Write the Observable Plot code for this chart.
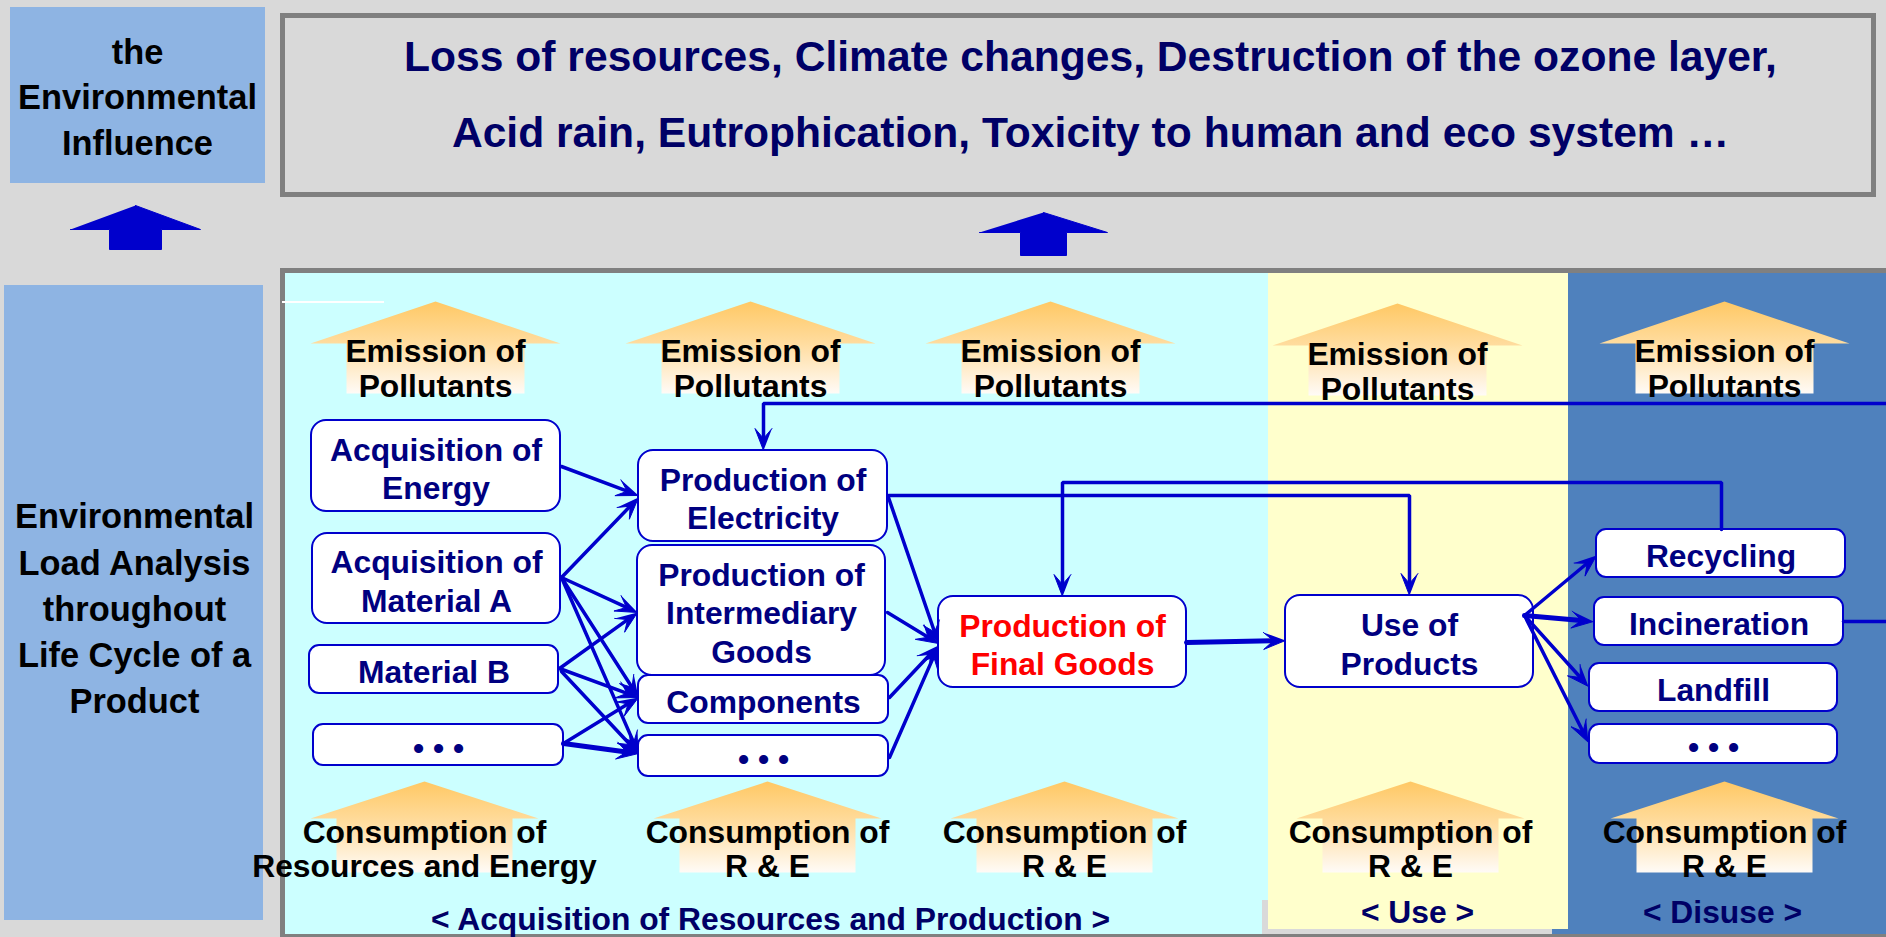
<!DOCTYPE html>
<html><head><meta charset="utf-8">
<script src="https://cdn.jsdelivr.net/npm/d3@7"></script>
<script src="https://cdn.jsdelivr.net/npm/@observablehq/plot@0.6"></script>
<style>html,body{margin:0;padding:0;background:#d9d9d9;overflow:hidden}</style>
</head><body><div id="chart"></div>
<script>
const W = 1886, H = 937;
const FONT = "'Liberation Sans', Arial, Helvetica, sans-serif";
const BLUE = "#0000cc";
const FS = 31.8;

// ---------- texts ----------
const influenceTitle = ["the", "Environmental", "Influence"];
const analysisTitle = ["Environmental", "Load Analysis", "throughout", "Life Cycle of a", "Product"];
const impactLines = [
  "Loss of resources, Climate changes, Destruction of the ozone layer,",
  "Acid rain, Eutrophication, Toxicity to human and eco system \u2026"
];
const stageNames = ["< Acquisition of Resources and Production >", "< Use >", "< Disuse >"];
const emissionLabel = "Emission of\nPollutants";
const consumptionLabels = ["Consumption of\nResources and Energy", "Consumption of\nR & E", "Consumption of\nR & E", "Consumption of\nR & E", "Consumption of\nR & E"];

// ---------- process boxes ----------
const nodeLabels = ["Acquisition of\nEnergy", "Acquisition of\nMaterial A", "Material B", "\u2022 \u2022 \u2022",
  "Production of\nElectricity", "Production of\nIntermediary\nGoods", "Components", "\u2022 \u2022 \u2022",
  "Production of\nFinal Goods", "Use of\nProducts", "Recycling", "Incineration", "Landfill", "\u2022 \u2022 \u2022"];
const nodeHighlight = [0,0,0,0, 0,0,0,0, 1,0, 0,0,0,0];

// ---------- layout (diagram coordinates) ----------
const stageX1 = [285, 1268, 1568], stageX2 = [1268, 1568, 1886];
const stageColors = ["#ccffff", "#ffffcc", "#4f81bd"];
const stageLabelX = [770, 1417, 1722], stageLabelY = [919, 912, 912];

const nodeX1 = [311, 312, 309, 313, 638, 637, 638, 638, 938, 1285, 1596, 1594, 1589, 1589];
const nodeX2 = [560, 560, 558, 563, 887, 885, 888, 888, 1186, 1533, 1845, 1843, 1837, 1837];
const nodeY1 = [420, 533, 645, 724, 450, 545, 675, 735, 596, 595, 529, 597, 663, 724];
const nodeY2 = [511, 623, 693, 765, 541, 675, 723, 776, 687, 687, 577, 645, 711, 763];

const emissionX = [435, 750, 1050, 1397, 1724];
const emissionShift = [0, 0, 0, 2, 0];
const consumptionX = [424, 767, 1064, 1410, 1724];

// connectors: polyline points, arrowhead at end?
const connectors = [
  {pts: [[561,466],[638,495]], head: 1, thick: 0},
  {pts: [[561,577],[638,497]], head: 1, thick: 0},
  {pts: [[561,577],[637,612]], head: 1, thick: 0},
  {pts: [[561,577],[638,697]], head: 1, thick: 0},
  {pts: [[561,577],[638,753]], head: 1, thick: 0},
  {pts: [[559,668],[637,612]], head: 1, thick: 0},
  {pts: [[559,668],[638,697]], head: 1, thick: 0},
  {pts: [[561,671],[638,753]], head: 1, thick: 0},
  {pts: [[563,743],[638,697]], head: 1, thick: 0},
  {pts: [[563,743],[638,753]], head: 1, thick: 1},
  {pts: [[888,497],[938,643]], head: 1, thick: 0},
  {pts: [[887,612],[938,643]], head: 1, thick: 0},
  {pts: [[889,697],[938,645]], head: 1, thick: 0},
  {pts: [[889,757],[938,645]], head: 1, thick: 0},
  {pts: [[1186,642],[1285,640]], head: 1, thick: 1},
  {pts: [[1524,615],[1596,555]], head: 1, thick: 0},
  {pts: [[1524,615],[1593,621]], head: 1, thick: 1},
  {pts: [[1524,615],[1588,686]], head: 1, thick: 0},
  {pts: [[1524,615],[1588,742]], head: 1, thick: 0},
  {pts: [[888,495],[1409,495],[1409,595]], head: 1, thick: 0},
  {pts: [[1721,529],[1721,482],[1062,482],[1062,596]], head: 1, thick: 0},
  {pts: [[1886,403],[763,403],[763,450]], head: 1, thick: 0},
  {pts: [[1843,621],[1886,621]], head: 0, thick: 0}
];

// ---------- derived geometry ----------
const bgRects = [
  {x1:0, x2:W, y1:0, y2:H, c:"#d9d9d9"},
  {x1:10, x2:265, y1:7, y2:183, c:"#8eb4e3"},
  {x1:4, x2:263, y1:285, y2:920, c:"#8eb4e3"},
  {x1:280, x2:W, y1:268, y2:937, c:"#808080"},
  {x1:stageX1[0], x2:stageX2[0], y1:273, y2:934, c:stageColors[0]},
  {x1:1262, x2:1568, y1:900, y2:934, c:"#d9d9d9"},
  {x1:stageX1[1], x2:stageX2[1], y1:273, y2:929, c:stageColors[1]},
  {x1:stageX1[2], x2:stageX2[2], y1:273, y2:934, c:stageColors[2]},
  {x1:1552, x2:1568, y1:929, y2:934, c:stageColors[2]},
  {x1:282, x2:384, y1:301, y2:303, c:"#ffffff"}
];

function arrowPoly(id, cx, tip, base, headHalf, stemHalf, bottom) {
  return [[cx,tip],[cx+headHalf,base],[cx+stemHalf,base],[cx+stemHalf,bottom],
          [cx-stemHalf,bottom],[cx-stemHalf,base],[cx-headHalf,base]].map(([x,y]) => ({id, x, y}));
}
const blueArrows = [
  ...arrowPoly("b0", 135, 205, 229, 65, 26, 249),
  ...arrowPoly("b1", 1043, 212, 232, 64, 23, 255)
];
const orangeArrows = [];
emissionX.forEach((cx, i) => orangeArrows.push(...arrowPoly("e"+i, cx, 301+emissionShift[i], 343+emissionShift[i], 125, 89, 393+emissionShift[i])));
consumptionX.forEach((cx, i) => orangeArrows.push(...arrowPoly("c"+i, cx, 781, 818, 114, 88, 872)));

const nodes = nodeLabels.map((t, i) => ({
  t, x1: nodeX1[i], x2: nodeX2[i], y1: nodeY1[i], y2: nodeY2[i],
  cx: (nodeX1[i] + nodeX2[i]) / 2, cy: (nodeY1[i] + nodeY2[i]) / 2 + 1.5,
  color: nodeHighlight[i] ? "#ff0000" : "#000080", big: nodeY2[i] - nodeY1[i] > 60
}));

const HL = 22, HW = 8.5, NOTCH = 0.55;
const shafts = [], heads = [];
connectors.forEach((c, k) => {
  const pts = c.pts.map(p => p.slice());
  if (c.head) {
    const [x2, y2] = pts[pts.length - 1], [x1, y1] = pts[pts.length - 2];
    const len = Math.hypot(x2 - x1, y2 - y1), ux = (x2 - x1) / len, uy = (y2 - y1) / len, nx = -uy, ny = ux;
    [[x2, y2], [x2 - HL*ux + HW*nx, y2 - HL*uy + HW*ny], [x2 - NOTCH*HL*ux, y2 - NOTCH*HL*uy], [x2 - HL*ux - HW*nx, y2 - HL*uy - HW*ny]]
      .forEach(([x, y]) => heads.push({id: k, x, y}));
    pts[pts.length - 1] = [x2 - NOTCH*HL*ux, y2 - NOTCH*HL*uy];
  }
  pts.forEach(([x, y]) => shafts.push({id: k, x, y, thick: c.thick}));
});

const txt = (o) => ({fontFamily: FONT, fontWeight: "bold", textAnchor: "middle", lineAnchor: "middle", ...o});

const svg = Plot.plot({
  width: W, height: H, margin: 0,
  x: {domain: [0, W], range: [0, W], axis: null},
  y: {domain: [0, H], range: [0, H], axis: null},
  color: {type: "identity"},
  style: {background: "#d9d9d9", maxWidth: "none"},
  marks: [
    Plot.rect(bgRects, {x1: "x1", x2: "x2", y1: "y1", y2: "y2", fill: "c"}),
    Plot.rect([{x1: 282.5, x2: 1873.5, y1: 15.5, y2: 194.5}], {x1: "x1", x2: "x2", y1: "y1", y2: "y2", fill: "none", stroke: "#808080", strokeWidth: 5}),
    Plot.line(blueArrows, {x: "x", y: "y", z: "id", fill: BLUE, stroke: BLUE, strokeWidth: 1}),
    Plot.line(orangeArrows, {x: "x", y: "y", z: "id", fill: "url(#orangeGrad)", stroke: "none"}),
    // titles
    Plot.text(influenceTitle.map((t, i) => ({t, y: [52, 97, 143][i]})), txt({x: () => 137, y: "y", text: "t", fontSize: 34.4, fill: "#000000"})),
    Plot.text([{t: analysisTitle.join("\n")}], txt({x: () => 134, y: () => 605.5, text: "t", fontSize: 34.4, lineHeight: 1.345, fill: "#000000"})),
    Plot.text(impactLines.map((t, i) => ({t, y: [57, 133][i]})), txt({x: () => 1090, y: "y", text: "t", fontSize: 42.6, fill: "#000066"})),
    Plot.text(emissionX.map((x, i) => ({x, y: 367.5 + emissionShift[i]*1.5})), txt({x: "x", y: "y", text: () => emissionLabel, fontSize: FS, lineHeight: 1.1, fill: "#000000"})),
    Plot.text(consumptionX.map((x, i) => ({x, t: consumptionLabels[i]})), txt({x: "x", y: () => 849, text: "t", fontSize: FS, lineHeight: 1.07, fill: "#000000"})),
    Plot.text(stageNames.map((t, i) => ({t, x: stageLabelX[i], y: stageLabelY[i]})), txt({x: "x", y: "y", text: "t", fontSize: FS, fill: "#000066"})),
    // boxes
    Plot.rect(nodes.filter(d => d.big), {x1: "x1", x2: "x2", y1: "y1", y2: "y2", fill: "#ffffff", stroke: BLUE, strokeWidth: 2, rx: 15, ry: 15}),
    Plot.rect(nodes.filter(d => !d.big), {x1: "x1", x2: "x2", y1: "y1", y2: "y2", fill: "#ffffff", stroke: BLUE, strokeWidth: 2, rx: 10, ry: 10}),
    // connectors
    Plot.line(shafts.filter(d => !d.thick), {x: "x", y: "y", z: "id", stroke: BLUE, strokeWidth: 3.5, strokeLinejoin: "miter"}),
    Plot.line(shafts.filter(d => d.thick), {x: "x", y: "y", z: "id", stroke: BLUE, strokeWidth: 5, strokeLinejoin: "miter"}),
    Plot.line(heads, {x: "x", y: "y", z: "id", fill: BLUE, stroke: BLUE, strokeWidth: 1}),
    // box labels
    Plot.text(nodes, txt({x: "cx", y: "cy", text: "t", fontSize: FS, lineHeight: 1.21, fill: "color"}))
  ]
});

const ns = "http://www.w3.org/2000/svg";
const defs = document.createElementNS(ns, "defs");
const grad = document.createElementNS(ns, "linearGradient");
grad.setAttribute("id", "orangeGrad");
grad.setAttribute("x1", "0"); grad.setAttribute("y1", "0");
grad.setAttribute("x2", "0"); grad.setAttribute("y2", "1");
[["0", "#ffc864"], ["0.45", "#ffdc9e"], ["1", "#fffbf7"]].forEach(([o, c]) => {
  const s = document.createElementNS(ns, "stop");
  s.setAttribute("offset", o); s.setAttribute("stop-color", c);
  grad.appendChild(s);
});
defs.appendChild(grad);
svg.insertBefore(defs, svg.firstChild);
document.getElementById("chart").appendChild(svg);
</script>
</body></html>
